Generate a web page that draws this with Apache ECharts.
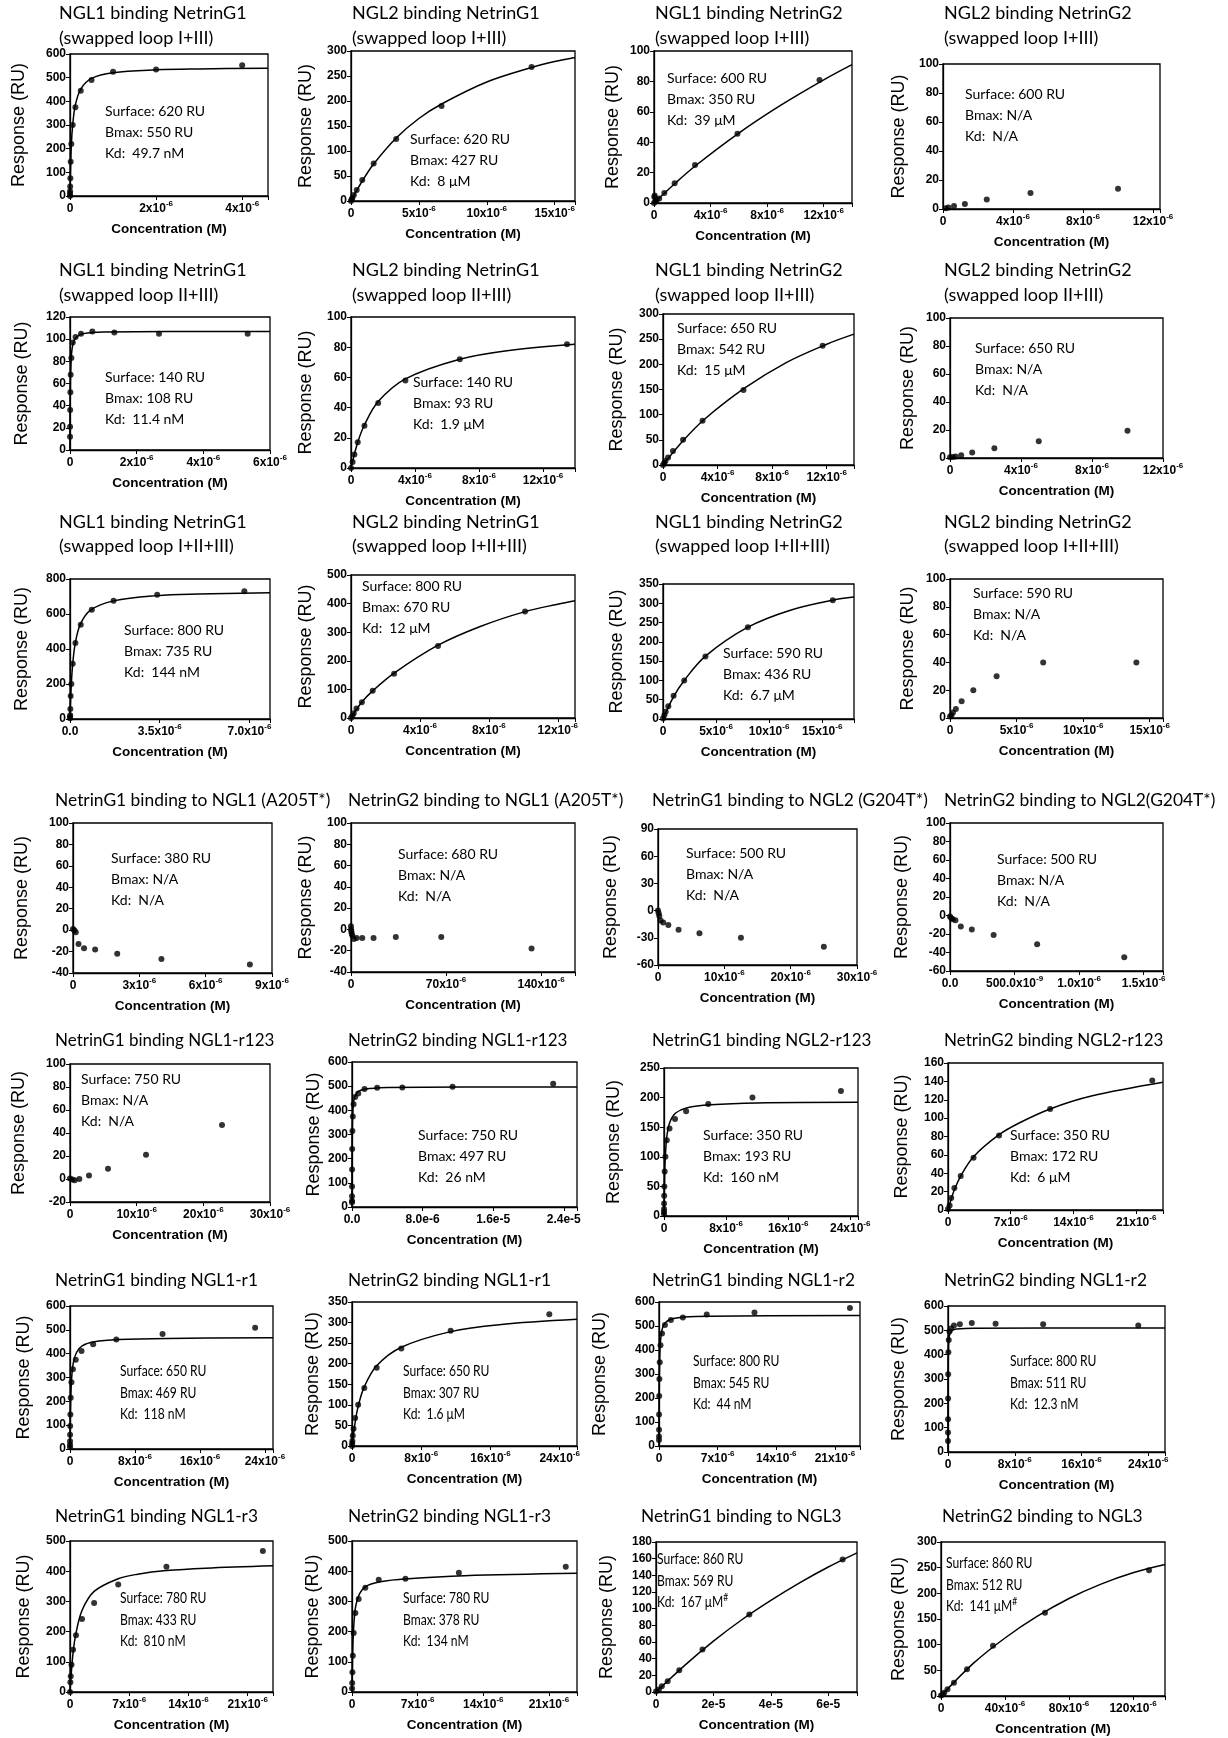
<!DOCTYPE html>
<html><head><meta charset="utf-8">
<script src="https://cdn.jsdelivr.net/npm/echarts@6/dist/echarts.min.js"></script>
<style>html,body{margin:0;padding:0;background:#fff}#c{width:1228px;height:1738px}</style>
</head><body><div id="c"></div>
<script>
// ---------------- DATA ----------------
const titles = [
 ['NGL1 binding NetrinG1','(swapped loop I+III)'],['NGL2 binding NetrinG1','(swapped loop I+III)'],
 ['NGL1 binding NetrinG2','(swapped loop I+III)'],['NGL2 binding NetrinG2','(swapped loop I+III)'],
 ['NGL1 binding NetrinG1','(swapped loop II+III)'],['NGL2 binding NetrinG1','(swapped loop II+III)'],
 ['NGL1 binding NetrinG2','(swapped loop II+III)'],['NGL2 binding NetrinG2','(swapped loop II+III)'],
 ['NGL1 binding NetrinG1','(swapped loop I+II+III)'],['NGL2 binding NetrinG1','(swapped loop I+II+III)'],
 ['NGL1 binding NetrinG2','(swapped loop I+II+III)'],['NGL2 binding NetrinG2','(swapped loop I+II+III)'],
 ['NetrinG1 binding to NGL1 (A205T*)'],['NetrinG2 binding to NGL1 (A205T*)'],
 ['NetrinG1 binding to NGL2 (G204T*)'],['NetrinG2 binding to NGL2(G204T*)'],
 ['NetrinG1 binding NGL1-r123'],['NetrinG2 binding NGL1-r123'],['NetrinG1 binding NGL2-r123'],['NetrinG2 binding NGL2-r123'],
 ['NetrinG1 binding NGL1-r1'],['NetrinG2 binding NGL1-r1'],['NetrinG1 binding NGL1-r2'],['NetrinG2 binding NGL1-r2'],
 ['NetrinG1 binding NGL1-r3'],['NetrinG2 binding NGL1-r3'],['NetrinG1 binding to NGL3'],['NetrinG2 binding to NGL3']
];
const annotations = [
 ['Surface: 620 RU','Bmax: 550 RU','Kd:  49.7 nM'],['Surface: 620 RU','Bmax: 427 RU','Kd:  8 μM'],
 ['Surface: 600 RU','Bmax: 350 RU','Kd:  39 μM'],['Surface: 600 RU','Bmax: N/A','Kd:  N/A'],
 ['Surface: 140 RU','Bmax: 108 RU','Kd:  11.4 nM'],['Surface: 140 RU','Bmax: 93 RU','Kd:  1.9 μM'],
 ['Surface: 650 RU','Bmax: 542 RU','Kd:  15 μM'],['Surface: 650 RU','Bmax: N/A','Kd:  N/A'],
 ['Surface: 800 RU','Bmax: 735 RU','Kd:  144 nM'],['Surface: 800 RU','Bmax: 670 RU','Kd:  12 μM'],
 ['Surface: 590 RU','Bmax: 436 RU','Kd:  6.7 μM'],['Surface: 590 RU','Bmax: N/A','Kd:  N/A'],
 ['Surface: 380 RU','Bmax: N/A','Kd:  N/A'],['Surface: 680 RU','Bmax: N/A','Kd:  N/A'],
 ['Surface: 500 RU','Bmax: N/A','Kd:  N/A'],['Surface: 500 RU','Bmax: N/A','Kd:  N/A'],
 ['Surface: 750 RU','Bmax: N/A','Kd:  N/A'],['Surface: 750 RU','Bmax: 497 RU','Kd:  26 nM'],
 ['Surface: 350 RU','Bmax: 193 RU','Kd:  160 nM'],['Surface: 350 RU','Bmax: 172 RU','Kd:  6 μM'],
 ['Surface: 650 RU','Bmax: 469 RU','Kd:  118 nM'],['Surface: 650 RU','Bmax: 307 RU','Kd:  1.6 μM'],
 ['Surface: 800 RU','Bmax: 545 RU','Kd:  44 nM'],['Surface: 800 RU','Bmax: 511 RU','Kd:  12.3 nM'],
 ['Surface: 780 RU','Bmax: 433 RU','Kd:  810 nM'],['Surface: 780 RU','Bmax: 378 RU','Kd:  134 nM'],
 ['Surface: 860 RU','Bmax: 569 RU','Kd:  167 μM^#'],['Surface: 860 RU','Bmax: 512 RU','Kd:  141 μM^#']
];
const xMax  = [4.6e-6,16.5e-6,14e-6,12.4e-6, 6e-6,14e-6,14e-6,12e-6, 7.8e-6,13e-6,18e-6,16e-6, 9e-6,165e-6,30e-6,1.65e-6, 30e-6,25.5e-6,25e-6,24e-6, 25e-6,26e-6,24e-6,26e-6, 24e-6,24e-6,70e-6,140e-6];
const xStep = [2e-6,5e-6,4e-6,4e-6, 2e-6,4e-6,4e-6,4e-6, 3.5e-6,4e-6,5e-6,5e-6, 3e-6,70e-6,10e-6,0.5e-6, 10e-6,8e-6,8e-6,7e-6, 8e-6,8e-6,7e-6,8e-6, 7e-6,7e-6,20e-6,40e-6];
const xTickLabels = [
 ['0','2x10^-6','4x10^-6'],['0','5x10^-6','10x10^-6','15x10^-6'],['0','4x10^-6','8x10^-6','12x10^-6'],['0','4x10^-6','8x10^-6','12x10^-6'],
 ['0','2x10^-6','4x10^-6','6x10^-6'],['0','4x10^-6','8x10^-6','12x10^-6'],['0','4x10^-6','8x10^-6','12x10^-6'],['0','4x10^-6','8x10^-6','12x10^-6'],
 ['0.0','3.5x10^-6','7.0x10^-6'],['0','4x10^-6','8x10^-6','12x10^-6'],['0','5x10^-6','10x10^-6','15x10^-6'],['0','5x10^-6','10x10^-6','15x10^-6'],
 ['0','3x10^-6','6x10^-6','9x10^-6'],['0','70x10^-6','140x10^-6'],['0','10x10^-6','20x10^-6','30x10^-6'],['0.0','500.0x10^-9','1.0x10^-6','1.5x10^-6'],
 ['0','10x10^-6','20x10^-6','30x10^-6'],['0.0','8.0e-6','1.6e-5','2.4e-5'],['0','8x10^-6','16x10^-6','24x10^-6'],['0','7x10^-6','14x10^-6','21x10^-6'],
 ['0','8x10^-6','16x10^-6','24x10^-6'],['0','8x10^-6','16x10^-6','24x10^-6'],['0','7x10^-6','14x10^-6','21x10^-6'],['0','8x10^-6','16x10^-6','24x10^-6'],
 ['0','7x10^-6','14x10^-6','21x10^-6'],['0','7x10^-6','14x10^-6','21x10^-6'],['0','2e-5','4e-5','6e-5'],['0','40x10^-6','80x10^-6','120x10^-6']
];
const yMin  = [0,0,0,0, 0,0,0,0, 0,0,0,0, -40,-40,-60,-60, -20,0,0,0, 0,0,0,0, 0,0,0,0];
const yMax  = [600,300,100,100, 120,100,300,100, 800,500,350,100, 100,100,90,100, 100,600,250,160, 600,350,600,600, 500,500,180,300];
const yStep = [100,50,20,20, 20,20,50,20, 200,100,50,20, 20,20,30,20, 20,100,50,20, 100,50,100,100, 100,100,20,50];

const pts01 = [[0,0],[0.001e-6,10],[0.002e-6,20],[0.004e-6,40],[0.008e-6,75],[0.016e-6,145],[0.031e-6,220],[0.0625e-6,300],[0.125e-6,375],[0.25e-6,445],[0.5e-6,490],[1e-6,525],[2e-6,535],[4e-6,552]];
const fit01 = [[0,0],[0.008e-6,70],[0.031e-6,215],[0.0625e-6,300],[0.125e-6,385],[0.25e-6,452],[0.5e-6,497],[1e-6,521],[2e-6,533],[3e-6,537],[4.6e-6,540]];
const pts02 = [[0,0],[0.05e-6,3],[0.1e-6,6],[0.21e-6,12],[0.42e-6,22],[0.83e-6,42],[1.67e-6,75],[3.33e-6,124],[6.67e-6,190],[13.3e-6,268]];
const fit02 = [[0,0],[0.83e-6,40],[1.67e-6,74],[3.33e-6,126],[5e-6,165],[6.67e-6,194],[10e-6,238],[13.3e-6,267],[15e-6,279],[16.5e-6,287]];
const pts03 = [[0,0],[0.02e-6,4],[0.05e-6,5],[0.09e-6,1],[0.18e-6,2],[0.37e-6,3],[0.73e-6,6.5],[1.46e-6,13],[2.9e-6,25],[5.9e-6,45.5],[11.7e-6,81]];
const fit03 = [[0,0],[1.5e-6,13],[3e-6,25],[6e-6,46],[9e-6,64.5],[12e-6,81],[14e-6,91]];
const pts04 = [[0.16e-6,0.5],[0.31e-6,1],[0.63e-6,2],[1.25e-6,3.5],[2.5e-6,6.5],[5e-6,11],[10e-6,14]];
const pts05 = [[0.0013e-6,12],[0.0026e-6,21],[0.0052e-6,36],[0.0104e-6,52],[0.021e-6,68],[0.042e-6,83],[0.083e-6,97],[0.167e-6,102],[0.33e-6,105],[0.67e-6,107],[1.33e-6,106],[2.67e-6,105],[5.33e-6,105]];
const fit05 = [[0,0],[0.01e-6,51],[0.04e-6,84],[0.1e-6,97],[0.2e-6,102],[0.4e-6,105],[1e-6,106.5],[6e-6,107]];
const pts06 = [[0,0],[0.1e-6,4],[0.21e-6,9],[0.42e-6,17],[0.84e-6,28],[1.7e-6,43],[3.4e-6,58],[6.8e-6,72],[13.5e-6,82]];
const fit06 = [[0,0],[0.42e-6,17],[0.84e-6,28.5],[1.7e-6,44],[3.4e-6,59],[6.8e-6,72],[10e-6,78],[14e-6,82]];
const pts07 = [[0,0],[0.09e-6,4],[0.18e-6,8],[0.37e-6,15],[0.73e-6,28],[1.47e-6,50],[2.9e-6,88],[5.9e-6,149],[11.7e-6,237]];
const fit07 = [[0,0],[1.5e-6,49],[3e-6,90],[6e-6,153],[9e-6,203],[12e-6,240],[14e-6,260]];
const pts08 = [[0,0.5],[0.16e-6,0.8],[0.31e-6,1],[0.63e-6,2],[1.25e-6,4],[2.5e-6,7],[5e-6,12],[10e-6,19.5]];
const pts09 = [[0,5],[0.0033e-6,12],[0.0066e-6,22],[0.013e-6,57],[0.027e-6,131],[0.053e-6,200],[0.106e-6,316],[0.21e-6,434],[0.42e-6,538],[0.85e-6,625],[1.7e-6,676],[3.4e-6,710],[6.8e-6,730]];
const fit09 = [[0,0],[0.025e-6,110],[0.05e-6,195],[0.1e-6,305],[0.2e-6,428],[0.4e-6,540],[0.8e-6,622],[1.7e-6,675],[3.4e-6,705],[5e-6,714],[7.8e-6,721]];
const pts10 = [[0,0],[0.08e-6,8],[0.16e-6,17],[0.32e-6,33],[0.63e-6,55],[1.26e-6,95],[2.5e-6,155],[5.05e-6,252],[10.1e-6,372]];
const fit10 = [[0,0],[0.63e-6,56],[1.26e-6,95],[2.5e-6,157],[5e-6,253],[7.5e-6,320],[10.1e-6,372],[12e-6,398],[13e-6,410]];
const pts11 = [[0,1],[0.125e-6,10],[0.25e-6,19],[0.5e-6,33],[1e-6,60],[2e-6,100],[4e-6,162],[8e-6,238],[16e-6,308]];
const fit11 = [[0,0],[1e-6,58],[2e-6,100],[4e-6,163],[8e-6,238],[12e-6,282],[16e-6,308],[18e-6,316]];
const pts12 = [[0,1],[0.11e-6,2],[0.22e-6,4],[0.44e-6,6.5],[0.875e-6,12],[1.75e-6,20],[3.5e-6,30],[7e-6,40],[14e-6,40]];
const pts13 = [[0,1],[0.06e-6,0],[0.125e-6,-2],[0.25e-6,-13],[0.5e-6,-17],[1e-6,-18],[2e-6,-22],[4e-6,-27],[8e-6,-32]];
const pts14 = [[0,3],[0.13e-6,0],[0.26e-6,-2],[0.52e-6,-4],[1.04e-6,-6],[2.1e-6,-9],[4.2e-6,-8],[8.3e-6,-8],[16.6e-6,-8],[33e-6,-7],[66.5e-6,-7],[133e-6,-18]];
const pts15 = [[0,0],[0.1e-6,-3],[0.2e-6,-6],[0.39e-6,-11],[0.78e-6,-13],[1.56e-6,-16],[3.1e-6,-21],[6.25e-6,-25],[12.5e-6,-30],[25e-6,-40]];
const pts16 = [[0,-1],[0.01e-6,-3],[0.021e-6,-4],[0.042e-6,-5],[0.084e-6,-12],[0.169e-6,-15],[0.338e-6,-21],[0.675e-6,-31],[1.35e-6,-45]];
const pts17 = [[0,0.5],[0.35e-6,-0.5],[0.7e-6,-1],[1.4e-6,0],[2.85e-6,3],[5.7e-6,9],[11.4e-6,21],[22.8e-6,47]];
const pts18 = [[0.0007e-6,20],[0.0014e-6,25],[0.0028e-6,45],[0.0056e-6,85],[0.011e-6,155],[0.022e-6,240],[0.045e-6,315],[0.089e-6,375],[0.18e-6,425],[0.36e-6,455],[0.71e-6,470],[1.42e-6,488],[2.85e-6,493],[5.7e-6,495],[11.4e-6,498],[22.8e-6,510]];
const fit18 = [[0,0],[0.01e-6,140],[0.025e-6,245],[0.05e-6,330],[0.1e-6,395],[0.2e-6,440],[0.5e-6,470],[1e-6,483],[2e-6,490],[4e-6,495],[25.5e-6,497]];
const pts19 = [[0.0014e-6,3],[0.0028e-6,7],[0.0056e-6,12],[0.011e-6,21],[0.022e-6,34],[0.045e-6,50],[0.089e-6,75],[0.18e-6,100],[0.36e-6,128],[0.71e-6,148],[1.42e-6,164],[2.85e-6,177],[5.7e-6,189],[11.4e-6,200],[22.8e-6,211]];
const fit19 = [[0,0],[0.1e-6,75],[0.2e-6,107],[0.4e-6,138],[0.8e-6,160],[1.5e-6,174],[3e-6,183],[6e-6,188],[12e-6,191],[25e-6,192]];
const pts20 = [[0,1],[0.18e-6,5],[0.36e-6,13],[0.71e-6,24],[1.42e-6,37],[2.85e-6,57],[5.7e-6,81],[11.4e-6,110],[22.8e-6,141]];
const fit20 = [[0,0],[0.36e-6,12],[0.71e-6,22],[1.42e-6,37],[2.85e-6,58],[5.7e-6,82],[8e-6,95],[11.4e-6,110],[16e-6,124],[24e-6,139]];
const pts21 = [[0.0014e-6,7],[0.0028e-6,18],[0.0056e-6,32],[0.011e-6,60],[0.022e-6,96],[0.045e-6,145],[0.089e-6,215],[0.18e-6,280],[0.36e-6,335],[0.71e-6,375],[1.42e-6,411],[2.85e-6,439],[5.7e-6,459],[11.4e-6,482],[22.8e-6,509]];
const fit21 = [[0,0],[0.05e-6,140],[0.1e-6,215],[0.2e-6,295],[0.4e-6,360],[0.8e-6,405],[1.5e-6,433],[3e-6,450],[6e-6,459],[12e-6,464],[25e-6,467]];
const pts22 = [[0,0],[0.022e-6,6],[0.045e-6,12],[0.089e-6,25],[0.18e-6,42],[0.36e-6,68],[0.71e-6,100],[1.42e-6,141],[2.85e-6,190],[5.7e-6,237],[11.4e-6,280],[22.8e-6,320]];
const fit22 = [[0,0],[0.36e-6,57],[0.7e-6,95],[1.4e-6,143],[2.85e-6,195],[5.7e-6,240],[11.4e-6,278],[17e-6,295],[26e-6,308]];
const pts23 = [[0.0014e-6,25],[0.0028e-6,40],[0.0056e-6,68],[0.011e-6,131],[0.022e-6,208],[0.045e-6,279],[0.089e-6,349],[0.18e-6,420],[0.36e-6,469],[0.71e-6,504],[1.42e-6,525],[2.85e-6,535],[5.7e-6,548],[11.4e-6,556],[22.8e-6,575]];
const fit23 = [[0,0],[0.01e-6,105],[0.022e-6,180],[0.045e-6,275],[0.09e-6,365],[0.18e-6,437],[0.36e-6,485],[0.71e-6,512],[1.42e-6,528],[3e-6,537],[6e-6,541],[24e-6,544]];
const pts24 = [[0.0014e-6,45],[0.0028e-6,80],[0.0056e-6,135],[0.011e-6,220],[0.022e-6,320],[0.045e-6,410],[0.089e-6,460],[0.18e-6,495],[0.36e-6,508],[0.71e-6,520],[1.42e-6,525],[2.85e-6,530],[5.7e-6,527],[11.4e-6,525],[22.8e-6,520]];
const fit24 = [[0,0],[0.01e-6,230],[0.02e-6,320],[0.05e-6,410],[0.1e-6,455],[0.2e-6,483],[0.5e-6,500],[1e-6,505],[3e-6,509],[26e-6,510]];
const pts25 = [[0,0],[0.045e-6,32],[0.089e-6,52],[0.18e-6,90],[0.36e-6,140],[0.71e-6,188],[1.42e-6,242],[2.85e-6,295],[5.7e-6,356],[11.4e-6,415],[22.8e-6,467]];
const fit25 = [[0,0],[0.36e-6,130],[0.71e-6,195],[1.42e-6,270],[2.85e-6,333],[5.7e-6,375],[8e-6,390],[11.4e-6,402],[16e-6,410],[24e-6,418]];
const pts26 = [[0.011e-6,12],[0.022e-6,30],[0.045e-6,65],[0.089e-6,120],[0.18e-6,195],[0.36e-6,262],[0.71e-6,308],[1.42e-6,345],[2.85e-6,372],[5.7e-6,375],[11.4e-6,395],[22.8e-6,415]];
const fit26 = [[0,0],[0.1e-6,160],[0.2e-6,225],[0.4e-6,285],[0.8e-6,325],[1.5e-6,350],[3e-6,365],[6e-6,375],[12e-6,385],[24e-6,393]];
const pts27 = [[0,0.5],[1.0e-6,3],[2.03e-6,7],[4.06e-6,13],[8.1e-6,26],[16.2e-6,51],[32.5e-6,93],[65e-6,159]];
const fit27 = [[0,0],[10e-6,32],[20e-6,61],[30e-6,87],[40e-6,110],[50e-6,131],[60e-6,150],[70e-6,167]];
const pts28 = [[0,1],[1e-6,3],[2.03e-6,6.5],[4.06e-6,13],[8.1e-6,26],[16.25e-6,52],[32.5e-6,98],[65e-6,162],[130e-6,245]];
const fit28 = [[0,0],[20e-6,63],[40e-6,113],[60e-6,155],[80e-6,190],[100e-6,218],[120e-6,240],[140e-6,256]];

const points = [pts01,pts02,pts03,pts04,pts05,pts06,pts07,pts08,pts09,pts10,pts11,pts12,pts13,pts14,pts15,pts16,pts17,pts18,pts19,pts20,pts21,pts22,pts23,pts24,pts25,pts26,pts27,pts28];
const fits = [fit01,fit02,fit03,null,fit05,fit06,fit07,null,fit09,fit10,fit11,null,null,null,null,null,null,fit18,fit19,fit20,fit21,fit22,fit23,fit24,fit25,fit26,fit27,fit28];

// ---------------- LAYOUT (pixels) ----------------
const boxes = [
 [70,54,268,196],[351,51,575,201],[654,51,852,203],[943,64,1160,209],
 [70,317,270,450],[351,317,575,468],[663,314,854,465],[950,318,1163,458],
 [70,579,270,719],[351,575,575,718],[663,584,854,719],[950,579,1163,718],
 [73,823,272,973],[351,823,575,972],[658,829,857,965],[950,823,1163,971],
 [70,1064,270,1202],[352,1062,577,1207],[664,1068,858,1216],[948,1063,1163,1210],
 [70,1306,273,1449],[352,1302,577,1446],[659,1302,860,1446],[948,1306,1165,1452],
 [70,1541,273,1692],[352,1541,577,1692],[656,1542,857,1692],[941,1542,1165,1696]
];
const yNameX = [19,306,613,899, 22,306,617,908, 22,306,617,908, 22,306,611,902, 19,314,614,902, 24,313,600,899, 24,313,607,899];
const titleX = [59,352,655,944, 59,352,655,944, 59,352,655,944, 55,348,652,944, 55,348,652,944, 55,348,652,944, 55,348,641,942];
const titleY = [[13,38],[270,295],[522,546],[800],[1041],[1280],[1516]];
const titleSize = [18,18,18,17.4,17,18,18];
const titleScale = [1,1,1,1,1,0.96,0.96];
const annotPos = [
 [105,111],[410,139],[667,78],[965,94],
 [105,377],[413,382],[677,328],[975,348],
 [124,630],[362,586],[723,653],[973,593],
 [111,858],[398,854],[686,853],[997,859],
 [81,1079],[418,1135],[703,1135],[1010,1135],
 [120,1371],[403,1371],[693,1361],[1010,1361],
 [120,1598],[403,1598],[657,1559],[946,1563]
];

// ---------------- BUILD ----------------
const FONT_T = 'Lato, "Open Sans", sans-serif';
const FONT_A = '"Liberation Sans", Arial, sans-serif';
function richLabel(s, key){
  const i = s.indexOf('^');
  if (i < 0) return '{' + key + '|' + s + '}';
  return '{' + key + '|' + s.slice(0, i) + '}{s|' + s.slice(i + 1) + '}';
}
const tickRich = {
  b: {fontSize: 12, fontWeight: 'bold', fontFamily: FONT_A, color: '#000', lineHeight: 17},
  s: {fontSize: 8, fontWeight: 'bold', fontFamily: FONT_A, color: '#000', lineHeight: 8, verticalAlign: 'top'}
};
const grids = [], xAxes = [], yAxes = [], series = [], graphics = [];
for (let i = 0; i < 28; i++) {
  const [L, T, R, B] = boxes[i];
  const row = Math.floor(i / 4);
  const narrow = row >= 5;
  grids.push({left: L, top: T, width: R - L, height: B - T, show: true, borderColor: '#000', borderWidth: 1.3, backgroundColor: 'rgba(0,0,0,0)'});
  const labs = xTickLabels[i], step = xStep[i];
  xAxes.push({
    gridIndex: i, type: 'value', min: 0, max: xMax[i], interval: step,
    axisLine: {onZero: false, lineStyle: {color: '#000', width: 1.3}},
    axisTick: {show: true, length: 4, lineStyle: {color: '#000', width: 1}},
    splitLine: {show: false},
    axisLabel: {margin: 4, rich: tickRich, formatter: function (v) {
      const k = Math.round(v / step);
      if (Math.abs(v - k * step) > step * 1e-3 || k >= labs.length) return '';
      return richLabel(labs[k], 'b');
    }},
    name: 'Concentration (M)', nameLocation: 'middle', nameGap: 26,
    nameTextStyle: {fontSize: 13.5, fontWeight: 'bold', fontFamily: FONT_A, color: '#000'}
  });
  yAxes.push({
    gridIndex: i, type: 'value', min: yMin[i], max: yMax[i], interval: yStep[i],
    axisLine: {onZero: false, lineStyle: {color: '#000', width: 1.3}},
    axisTick: {show: true, length: 4, lineStyle: {color: '#000', width: 1}},
    splitLine: {show: false},
    axisLabel: {margin: 4, fontSize: 12, fontWeight: 'bold', fontFamily: FONT_A, color: '#000'},
    name: 'Response (RU)', nameLocation: 'middle', nameRotate: 90, nameGap: L - yNameX[i] - 9,
    nameTextStyle: {fontSize: 18, fontFamily: FONT_A, color: '#000'}
  });
  if (fits[i]) series.push({type: 'line', xAxisIndex: i, yAxisIndex: i, data: fits[i], showSymbol: false, smooth: 0.35, lineStyle: {color: '#000', width: 1.5}, silent: true, z: 2});
  series.push({type: 'scatter', xAxisIndex: i, yAxisIndex: i, data: points[i], symbolSize: 6, itemStyle: {color: '#000'}, silent: true, z: 3});
  titles[i].forEach((t, j) => graphics.push({type: 'text', x: titleX[i], y: titleY[row][j], scaleX: titleScale[row],
    style: {text: t, fill: '#000', font: titleSize[row] + 'px ' + FONT_T, verticalAlign: 'middle', align: 'left'}}));
  const [ax, ay] = annotPos[i];
  const fs = narrow ? 15.5 : 14;
  annotations[i].forEach((t, j) => graphics.push({type: 'text', x: ax, y: ay + j * (narrow ? 21.5 : 21), scaleX: narrow ? 0.78 : 1, style: {
    text: richLabel(t, 'a'), fill: '#000', verticalAlign: 'middle', align: 'left',
    rich: {a: {fontSize: fs, fontFamily: FONT_T, color: '#000', lineHeight: 20}, s: {fontSize: 11, fontFamily: FONT_T, color: '#000', lineHeight: 10, verticalAlign: 'top'}}
  }}));
}
const chart = echarts.init(document.getElementById('c'), null, {renderer: 'canvas'});
chart.setOption({animation: false, backgroundColor: '#fff', grid: grids, xAxis: xAxes, yAxis: yAxes, series: series, graphic: graphics});
</script></body></html>
